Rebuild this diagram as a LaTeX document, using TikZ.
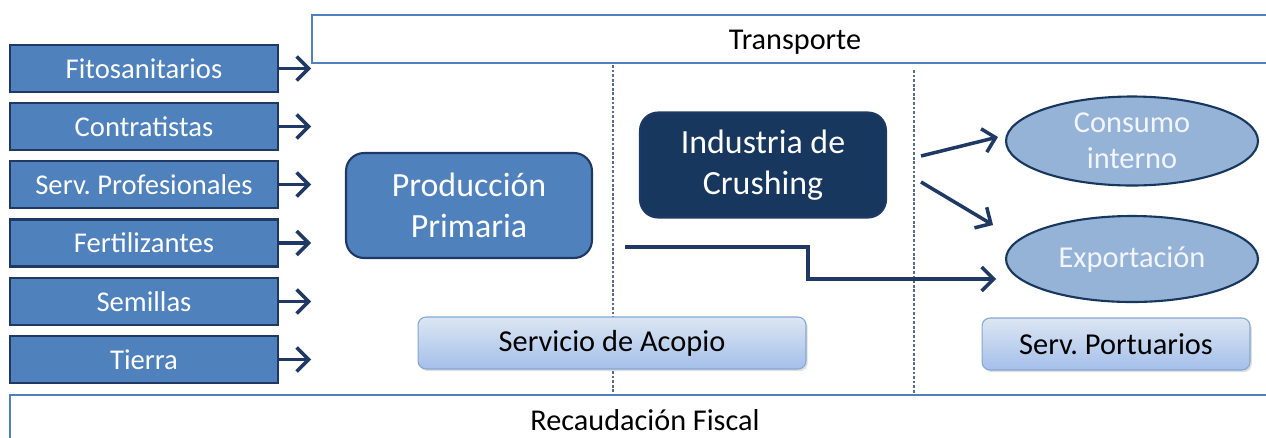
\documentclass[tikz,border=0pt]{standalone}
\usepackage{fontspec}
\setmainfont{Carlito}
\usetikzlibrary{arrows.meta,shapes.geometric,shadows}
\definecolor{boxblue}{HTML}{4F81BD}
\definecolor{darknavy}{HTML}{1F3864}
\definecolor{crushblue}{HTML}{17375E}
\definecolor{ellblue}{HTML}{95B3D7}
\definecolor{paletop}{HTML}{DCE6F2}
\definecolor{palebot}{HTML}{A4BFEA}
\definecolor{elltext}{HTML}{F2F6FB}
\definecolor{dashgray}{HTML}{5A6E8A}

\tikzset{
	inbox/.style={draw=darknavy, line width=1.2pt, fill=boxblue, text=white, minimum width=5.36cm, minimum height=0.94cm, inner sep=0pt, font=\fontsize{16.3}{18}\selectfont},
	bigbox/.style={draw=darknavy, rounded corners=0.36cm, line width=1.2pt, minimum width=4.92cm, minimum height=2.1cm, text=white, align=center, font=\fontsize{19.3}{23.3}\selectfont},
	servbox/.style={draw=boxblue!70, rounded corners=0.16cm, line width=0.6pt, top color=paletop, bottom color=palebot, minimum height=1.04cm, font=\fontsize{17.3}{19}\selectfont, drop shadow={opacity=0.25, shadow xshift=1pt, shadow yshift=-1.2pt}},
	market/.style={ellipse, draw=crushblue, line width=1.2pt, fill=ellblue, text=elltext, minimum width=5.04cm, align=center, inner sep=0pt, font=\fontsize{17.3}{20.6}\selectfont},
	band/.style={draw=boxblue, line width=1.2pt, inner sep=0pt},
	bandtext/.style={font=\fontsize{17.2}{19}\selectfont},
	flow/.style={draw=darknavy, line width=2pt, -{Straight Barb[length=2.4mm,width=4.8mm]}},
	divider/.style={draw=dashgray, line width=0.6pt, dash pattern=on 1.6pt off 1pt}
}

\begin{document}
\frenchspacing
\begin{tikzpicture}[x=0.02cm, y=-0.02cm]
			%%%%% START %%%%%
			\clip (0, 0) rectangle (1266, 437);
			
			\draw[divider] (613, 65) -- (613, 395);
			\draw[divider] (914, 70) -- (914, 395);
			
			\node[band, minimum width=19.32cm, minimum height=0.96cm] (tr) at (795, 39) {};
			\node[bandtext] (trtext) at (795, 42) {Transporte};
			\node[band, minimum width=25.4cm, minimum height=1.08cm] (fisc) at (645, 422) {};
			\node[bandtext] (fisctext) at (645, 420) {Recaudación Fiscal};
			
			\node[inbox] (fito) at (144, 68.5) {Fitosanitarios};
			\node[inbox] (contr) at (144, 126.5) {Contratistas};
			\node[inbox] (prof) at (144, 184.5) {Serv. Profesionales};
			\node[inbox] (fert) at (144, 243) {Fertilizantes};
			\node[inbox] (sem) at (144, 301.5) {Semillas};
			\node[inbox] (tierra) at (144, 359.5) {Tierra};
			
			\draw[flow] (fito.east) -- (fito.east -| tr.west);
			\draw[flow] (contr.east) -- (contr.east -| tr.west);
			\draw[flow] (prof.east) -- (prof.east -| tr.west);
			\draw[flow] (fert.east) -- (fert.east -| tr.west);
			\draw[flow] (sem.east) -- (sem.east -| tr.west);
			\draw[flow] (tierra.east) -- (tierra.east -| tr.west);
			
			\node[bigbox, fill=boxblue] (prod) at (469, 205.5) {Producción\\Primaria};
			\node[bigbox, fill=crushblue] (crush) at (763, 165) {Industria de\\Crushing};
			
			\node[market, minimum height=1.78cm] (cons) at (1132, 141) {Consumo\\interno};
			\node[market, minimum height=1.72cm] (expo) at (1132, 259) {Exportación};
			
			\node[servbox, minimum width=7.76cm] (acopio) at (612, 343) {Servicio de Acopio};
			\node[servbox, minimum width=5.36cm] (puerto) at (1116, 344) {Serv. Portuarios};
			
			\coordinate (cr1) at (921, 156);
			\coordinate (cr2) at (921, 182);
			\coordinate (cons1) at (998, 137);
			\coordinate (expo1) at (993, 225);
			\coordinate (prodout) at (625, 247);
			\coordinate (expo2) at (996, 279);
			
			\draw[flow] (cr1) -- (cons1);
			\draw[flow] (cr2) -- (expo1);
			\draw[flow] (prodout) -- (808, 247) -- (808, 279) -- (expo2);
			
			%%%%% END %%%%%
\end{tikzpicture}
\end{document}
